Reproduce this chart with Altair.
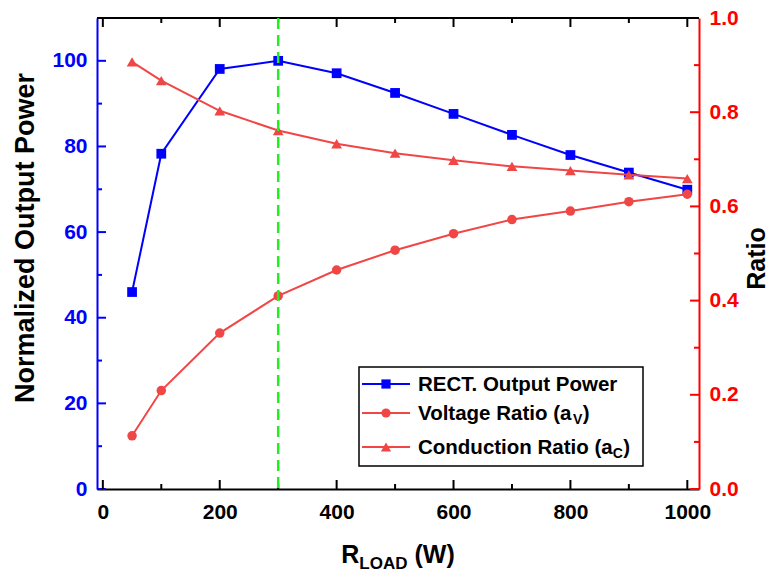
import altair as alt
import pandas as pd

# ---------------- data ----------------
r_load = [50, 100, 200, 300, 400, 500, 600, 700, 800, 900, 1000]
output_power = [46.0, 78.3, 98.1, 100.0, 97.1, 92.5, 87.6, 82.7, 78.0, 73.9, 69.9]
voltage_ratio = [0.113, 0.209, 0.331, 0.410, 0.465, 0.507, 0.542, 0.572, 0.590, 0.610, 0.626]
conduction_ratio = [0.907, 0.867, 0.803, 0.761, 0.733, 0.713, 0.698, 0.685, 0.676, 0.667, 0.659]
optimum_load = [300]

x_ticks = [0, 200, 400, 600, 800, 1000]
x_minor = [100, 300, 500, 700, 900]
left_ticks = [0, 20, 40, 60, 80, 100]
left_minor = [10, 30, 50, 70, 90]
right_ticks = [0.0, 0.2, 0.4, 0.6, 0.8, 1.0]
right_minor = [0.1, 0.3, 0.5, 0.7, 0.9]

legend_labels = ["RECT. Output Power", "Voltage Ratio (a", "Conduction Ratio (a"]
legend_subs = ["", "V", "C"]
legend_close = ["", ")", ")"]
left_title = "Normalized Output Power"
right_title = "Ratio"
x_title_parts = ["R", "LOAD", "(W)"]

# ---------------- style ----------------
W, H = 602, 471
FONT = "Liberation Sans"
BLUE = "#0000ff"
RED_AX = "#ff0000"
RED = "#f04646"
GREEN = "#22ee22"

AW = {' ': 278, '(': 333, ')': 333, '.': 278, 'A': 722, 'C': 722, 'D': 722, 'E': 667,
      'L': 611, 'N': 722, 'O': 778, 'P': 667, 'R': 722, 'T': 611, 'V': 667, 'W': 944,
      'a': 556, 'c': 556, 'd': 611, 'e': 556, 'g': 611, 'i': 278, 'l': 278, 'm': 889,
      'n': 611, 'o': 611, 'p': 611, 'r': 389, 't': 333, 'u': 611, 'w': 778, 'z': 500}


def tw(s, size):
    return sum(AW.get(c, 600) for c in s) * size / 1000.0


xs = alt.Scale(domain=[-10, 1020], nice=False, zero=False)
ls = alt.Scale(domain=[0, 110], nice=False, zero=False)
rs = alt.Scale(domain=[0, 1.0], nice=False, zero=False)

df = pd.DataFrame({"r": r_load, "p": output_power, "v": voltage_ratio, "c": conduction_ratio})
one = pd.DataFrame({"k": [0]})

TFS = 21

x_axis = alt.Axis(values=x_ticks, format="d", labelFont=FONT, labelFontWeight="bold",
                  labelFontSize=TFS, labelColor="black", labelPadding=12, labelFlush=False,
                  domainColor="black", domainWidth=2, ticks=False, grid=False, title="")

left_axis = alt.Axis(values=left_ticks, format="d", orient="left", labelFont=FONT,
                     labelFontWeight="bold", labelFontSize=TFS, labelColor=BLUE, labelPadding=10,
                     domainColor=BLUE, domainWidth=2, ticks=False, grid=False,
                     title=left_title, titleFont=FONT, titleFontWeight="bold", titleFontSize=27,
                     titleColor="black", titleAngle=270, titleAlign="center",
                     titleBaseline="alphabetic", titleX=-64, titleY=219.5)

right_axis = alt.Axis(values=right_ticks, format=".1f", orient="right", labelFont=FONT,
                      labelFontWeight="bold", labelFontSize=TFS, labelColor=RED_AX, labelPadding=10,
                      domainColor=RED_AX, domainWidth=2, ticks=False, grid=False,
                      title=right_title, titleFont=FONT, titleFontWeight="bold", titleFontSize=25,
                      titleColor="black", titleAngle=270, titleAlign="center",
                      titleBaseline="alphabetic", titleX=65, titleY=240)


def xq():
    return alt.X("r:Q", scale=xs)


def yl(field):
    return alt.Y(f"{field}:Q", scale=ls)


def yr(field):
    return alt.Y(f"{field}:Q", scale=rs)


# ---------------- left (power) group ----------------
blue_line = alt.Chart(df).mark_line(color=BLUE, strokeWidth=2).encode(
    x=alt.X("r:Q", scale=xs, axis=x_axis), y=alt.Y("p:Q", scale=ls, axis=left_axis))
blue_pts = alt.Chart(df).mark_point(shape="square", filled=True, size=95, color=BLUE, opacity=1).encode(
    x=xq(), y=yl("p"))
lt_major = alt.Chart(pd.DataFrame({"p": left_ticks})).mark_rule(color=BLUE, strokeWidth=2).encode(
    y=yl("p"), x=alt.value(0), x2=alt.value(9))
lt_minor = alt.Chart(pd.DataFrame({"p": left_minor})).mark_rule(color=BLUE, strokeWidth=2).encode(
    y=yl("p"), x=alt.value(0), x2=alt.value(5))
left_group = alt.layer(blue_line, blue_pts, lt_major, lt_minor)

# ---------------- right (ratio) group ----------------
v_line = alt.Chart(df).mark_line(color=RED, strokeWidth=2).encode(
    x=xq(), y=alt.Y("v:Q", scale=rs, axis=right_axis))
v_pts = alt.Chart(df).mark_point(shape="circle", filled=True, size=90, color=RED, opacity=1).encode(
    x=xq(), y=yr("v"))
c_line = alt.Chart(df).mark_line(color=RED, strokeWidth=2).encode(
    x=xq(), y=yr("c"))
c_pts = alt.Chart(df).mark_point(shape="triangle-up", filled=True, size=115, color=RED, opacity=1).encode(
    x=xq(), y=yr("c"))
rt_major = alt.Chart(pd.DataFrame({"v": right_ticks})).mark_rule(color=RED_AX, strokeWidth=2).encode(
    y=yr("v"), x=alt.value(W), x2=alt.value(W - 9))
rt_minor = alt.Chart(pd.DataFrame({"v": right_minor})).mark_rule(color=RED_AX, strokeWidth=2).encode(
    y=yr("v"), x=alt.value(W), x2=alt.value(W - 5))
right_group = alt.layer(v_line, v_pts, c_line, c_pts, rt_major, rt_minor)

# ---------------- overlay (frame, marker line, legend, x title) ----------------
over = []
over.append(alt.Chart(one).mark_rule(color="black", strokeWidth=2).encode(
    x=alt.value(0), x2=alt.value(W), y=alt.value(0)))
for vals, ln in ((x_ticks, 9), (x_minor, 5)):
    d = pd.DataFrame({"r": vals})
    over.append(alt.Chart(d).mark_rule(color="black", strokeWidth=2).encode(
        x=xq(), y=alt.value(H), y2=alt.value(H - ln)))
    over.append(alt.Chart(d).mark_rule(color="black", strokeWidth=2).encode(
        x=xq(), y=alt.value(0), y2=alt.value(ln)))

over.append(alt.Chart(pd.DataFrame({"r": optimum_load})).mark_rule(
    color=GREEN, strokeWidth=2.5, strokeDash=[11, 6]).encode(
    x=xq(), y=alt.value(0), y2=alt.value(H)))

# legend
box_x0, box_x1, box_y0, box_y1 = 262, 546, 349, 448
over.append(alt.Chart(one).mark_rect(fill="white", stroke="black", strokeWidth=1.5).encode(
    x=alt.value(box_x0), x2=alt.value(box_x1), y=alt.value(box_y0), y2=alt.value(box_y1)))
row_y = [366, 395, 429]
colors = [BLUE, RED, RED]
shapes = ["square", "circle", "triangle-up"]
sizes = [85, 85, 105]
LFS = 20.5
for i in range(3):
    over.append(alt.Chart(one).mark_rule(color=colors[i], strokeWidth=2).encode(
        x=alt.value(265), x2=alt.value(313), y=alt.value(row_y[i])))
    over.append(alt.Chart(one).mark_point(shape=shapes[i], filled=True, size=sizes[i],
                                          color=colors[i], opacity=1).encode(
        x=alt.value(289), y=alt.value(row_y[i])))
    base_y = row_y[i] + 7
    tx = 321
    over.append(alt.Chart(one).mark_text(text=legend_labels[i], font=FONT, fontWeight="bold",
                                         fontSize=LFS, align="left", baseline="alphabetic",
                                         color="black").encode(
        x=alt.value(tx), y=alt.value(base_y)))
    if legend_subs[i]:
        sx = tx + tw(legend_labels[i], LFS)
        over.append(alt.Chart(one).mark_text(text=legend_subs[i], font=FONT, fontWeight="bold",
                                             fontSize=14, align="left", baseline="alphabetic",
                                             color="black").encode(
            x=alt.value(sx), y=alt.value(base_y + 3.5)))
        cx = sx + tw(legend_subs[i], 14) + 0.5
        over.append(alt.Chart(one).mark_text(text=legend_close[i], font=FONT, fontWeight="bold",
                                             fontSize=LFS, align="left", baseline="alphabetic",
                                             color="black").encode(
            x=alt.value(cx), y=alt.value(base_y)))

# x-axis title with subscript
big, small = 25, 17
gap = tw(" ", big)
total = tw(x_title_parts[0], big) + tw(x_title_parts[1], small) + gap + tw(x_title_parts[2], big)
x0 = W / 2 - total / 2
tb = 545
pieces = [(x_title_parts[0], big, 0, 0), (x_title_parts[1], small, 6, 0), (x_title_parts[2], big, 0, gap)]
cur = x0
for txt, fs, dy, pre in pieces:
    cur += pre
    over.append(alt.Chart(one).mark_text(text=txt, font=FONT, fontWeight="bold", fontSize=fs,
                                         align="left", baseline="alphabetic", color="black").encode(
        x=alt.value(cur), y=alt.value(tb + dy)))
    cur += tw(txt, fs)

overlay = alt.layer(*over)

chart = alt.layer(left_group, right_group, overlay).resolve_scale(y="independent").properties(
    width=W, height=H,
    autosize=alt.AutoSizeParams(type="none"),
    padding={"left": 97, "top": 18, "right": 73, "bottom": 84},
    background="white",
).configure_view(stroke="transparent")

chart.save("out.html", embed_options={"renderer": "svg", "actions": False})
